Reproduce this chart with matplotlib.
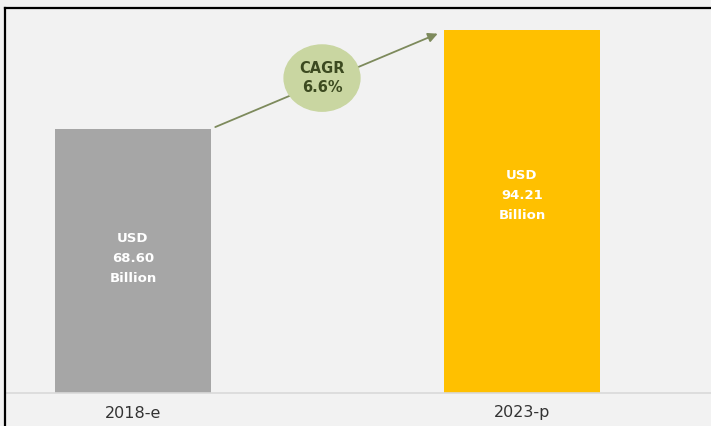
import matplotlib.pyplot as plt
from matplotlib.patches import Ellipse
from matplotlib.lines import Line2D

years = ['2018-e', '2023-p']
values = [68.60, 94.21]
bar_colors = ['#a6a6a6', '#ffc000']
label_y = [35, 51.4]  # vertical position of the text inside each bar
cagr = 6.6

fig = plt.figure(figsize=(7.11, 4.26), dpi=100, facecolor='#f2f2f2')
ax = fig.add_axes([5 / 711, 33 / 426, 706 / 711, 385 / 426])
ax.set_facecolor('#f2f2f2')

x = list(range(len(years)))
ax.bar(x, values, width=0.40, color=bar_colors, zorder=2)

for i, v in enumerate(values):
    ax.text(x[i], label_y[i], f'USD\n{v:.2f}\nBillion',
            ha='center', va='center', color='white', fontsize=9.5,
            fontweight='bold', linespacing=1.7, zorder=3)

# growth arrow
ax.annotate('', xy=(0.79, values[1] - 0.6), xytext=(0.205, values[0] + 0.2),
            arrowprops=dict(arrowstyle='-|>', color='#7d8a5c', lw=1.3,
                            mutation_scale=14), zorder=3)
ax.add_patch(Ellipse((0.486, 81.8), 0.195, 17.2, color='#c9d6a1', zorder=4))
ax.text(0.486, 81.8, f'CAGR\n{cagr}%', ha='center', va='center',
        color='#3c4a20', fontsize=10.5, fontweight='bold', linespacing=1.4,
        zorder=5)

ax.set_xlim(-0.329, 1.486)
ax.set_ylim(0, 100)
ax.set_xticks(x)
ax.set_xticklabels(years, fontsize=11.5, color='#333333')
ax.tick_params(axis='x', length=0, pad=9)
ax.set_yticks([])

ax.spines['right'].set_visible(False)
ax.spines['left'].set_visible(False)
ax.spines['top'].set_color('black')
ax.spines['top'].set_linewidth(1.6)
ax.spines['bottom'].set_color('#d9d9d9')
ax.spines['bottom'].set_linewidth(1.2)

# left border runs down to the bottom edge of the picture
fig.add_artist(Line2D([5 / 711, 5 / 711], [0, 418 / 426], color='black',
                      lw=1.6, transform=fig.transFigure))

fig.savefig('out.png', dpi=100, facecolor=fig.get_facecolor())
